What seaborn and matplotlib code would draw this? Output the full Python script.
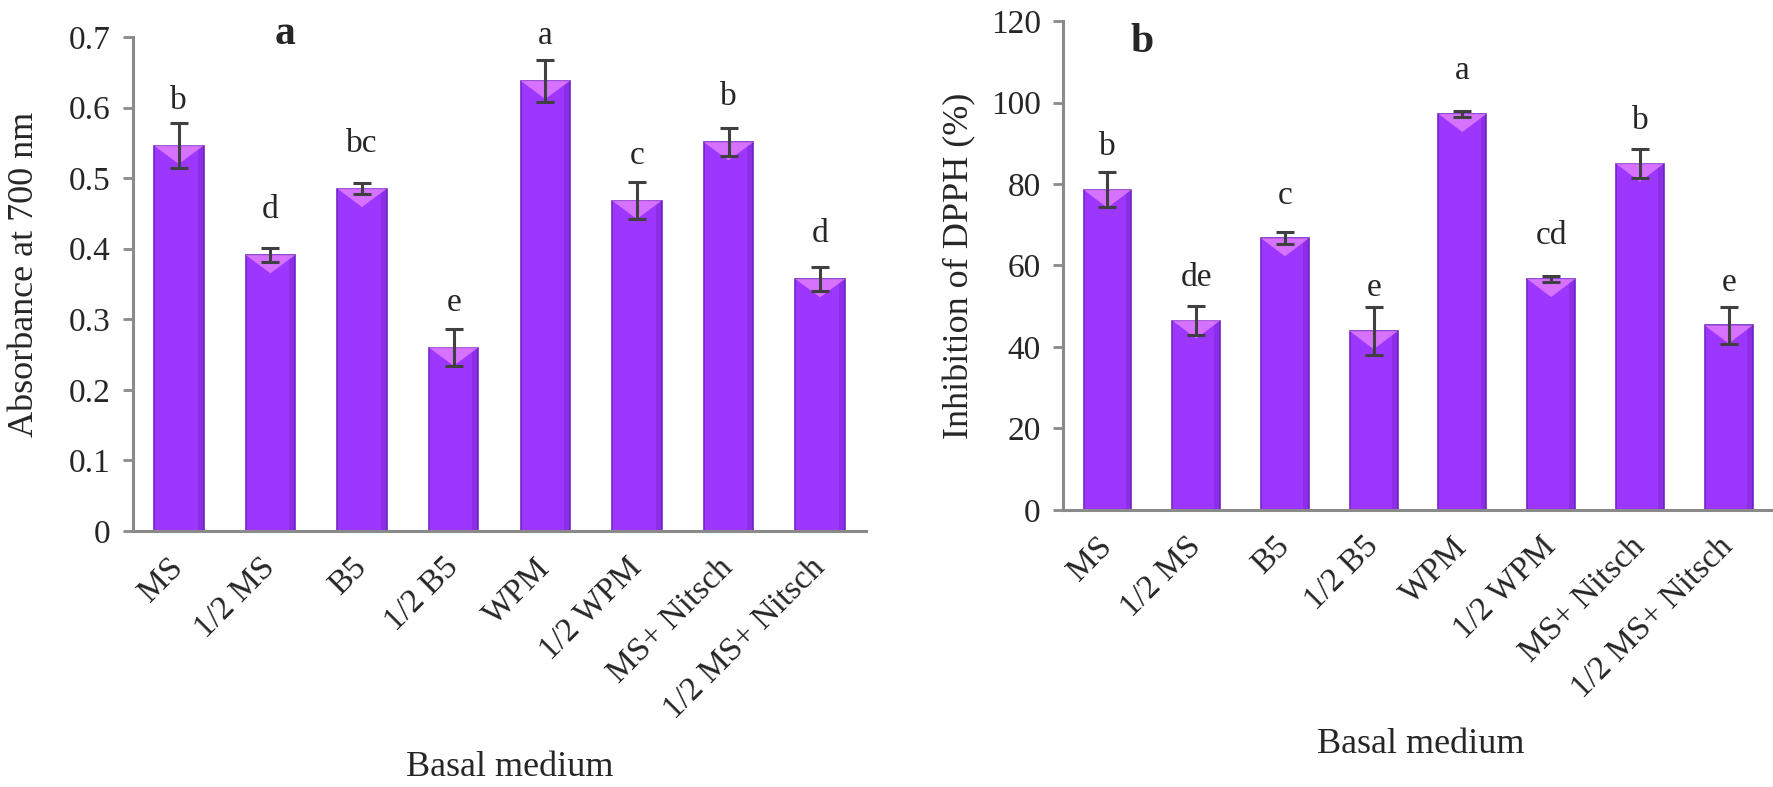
import seaborn as sns
import matplotlib.pyplot as plt
from matplotlib.patches import Polygon

# culture media on the x axis (same for both panels)
media = ["MS", "1/2 MS", "B5", "1/2 B5", "WPM", "1/2 WPM", "MS+ Nitsch", "1/2 MS+ Nitsch"]

# panel a - reducing power
absorbance = [0.546, 0.391, 0.485, 0.260, 0.638, 0.468, 0.551, 0.357]
absorbance_err = [0.032, 0.010, 0.008, 0.026, 0.030, 0.026, 0.020, 0.017]
absorbance_letters = ["b", "d", "bc", "e", "a", "c", "b", "d"]
absorbance_ticks = [0, 0.1, 0.2, 0.3, 0.4, 0.5, 0.6, 0.7]
absorbance_ticklabels = ["0", "0.1", "0.2", "0.3", "0.4", "0.5", "0.6", "0.7"]

# panel b - DPPH scavenging
dpph = [78.6, 46.5, 66.7, 43.9, 97.2, 56.7, 85.0, 45.3]
dpph_err = [4.3, 3.6, 1.5, 5.8, 0.8, 0.7, 3.6, 4.6]
dpph_letters = ["b", "de", "c", "e", "a", "cd", "b", "e"]
dpph_ticks = [0, 20, 40, 60, 80, 100, 120]
dpph_ticklabels = ["0", "20", "40", "60", "80", "100", "120"]

bar_color = "#9d36ff"
axis_gray = "#8a8a8a"

sns.set_style("white")
plt.rcParams["font.family"] = ["Liberation Serif", "DejaVu Serif"]


def draw_panel(ax, vals, errs, letters, ticks, ticklabels, ylabel, tag, tag_pos, gap,
               ylabel_pos, xlabel_pos):
    sns.barplot(x=media, y=vals, color=bar_color, saturation=1, width=0.54,
                edgecolor="#7426c6", linewidth=1.2, ax=ax)
    ax.errorbar(range(len(media)), vals, yerr=errs, fmt="none", ecolor="#404040",
                elinewidth=2.2, capsize=6.5, capthick=2.2, zorder=4)

    ymax = ticks[-1]
    ax.set_ylim(0, ymax)
    ax.set_xlim(-0.5, len(media) - 0.5)

    # glossy look: pink bevel on top, darker strip on the right side
    depth = 0.037 * ymax
    for p in ax.patches[:len(media)]:
        x0, w, top = p.get_x(), p.get_width(), p.get_height()
        ax.add_patch(Polygon([(x0, top), (x0 + w, top), (x0 + w * 0.5, top - depth)],
                             closed=True, facecolor="#f08cff", alpha=0.7, lw=0, zorder=3))
        ax.add_patch(Polygon([(x0 + w * 0.88, 0), (x0 + w, 0), (x0 + w, top), (x0 + w * 0.88, top)],
                             closed=True, facecolor="#5a1a9e", alpha=0.25, lw=0, zorder=2))

    for i, (v, letter) in enumerate(zip(vals, letters)):
        ax.text(i, v + gap, letter, ha="center", va="baseline", fontsize=24)

    ax.set_yticks(ticks)
    ax.set_yticklabels(ticklabels)
    ax.set_xticks(range(len(media)))
    ax.set_xticklabels(media, rotation=45, ha="right", va="center", rotation_mode="anchor")
    ax.tick_params(axis="y", direction="out", length=7, width=2, color=axis_gray,
                   labelsize=24, pad=9, left=True)
    ax.tick_params(axis="x", length=0, labelsize=24, pad=23)

    sns.despine(ax=ax)
    for side in ["left", "bottom"]:
        ax.spines[side].set_color(axis_gray)
        ax.spines[side].set_linewidth(2.2)
        ax.spines[side].set_zorder(5)

    ax.set_ylabel(ylabel, fontsize=26)
    ax.yaxis.set_label_coords(*ylabel_pos)
    ax.set_xlabel("Basal medium", fontsize=26)
    ax.xaxis.set_label_coords(*xlabel_pos)

    ax.text(tag_pos[0], tag_pos[1], tag, transform=ax.transAxes, ha="center",
            va="baseline", fontsize=30, fontweight="bold")


fig = plt.figure(figsize=(17.73, 7.87), dpi=100)
ax_a = fig.add_axes([0.0750, 0.3253, 0.4134, 0.6277])
ax_b = fig.add_axes([0.5996, 0.3520, 0.4004, 0.6213])

draw_panel(ax_a, absorbance, absorbance_err, absorbance_letters, absorbance_ticks,
           absorbance_ticklabels, "Absorbance at 700 nm", "a", (0.207, 0.985), 0.052,
           (-0.1255, 0.52), (0.514, -0.445))
draw_panel(ax_b, dpph, dpph_err, dpph_letters, dpph_ticks, dpph_ticklabels,
           "Inhibition of DPPH (%)", "b", (0.111, 0.937), 8.5,
           (-0.122, 0.5), (0.504, -0.446))

fig.savefig("out.png", dpi=100)
